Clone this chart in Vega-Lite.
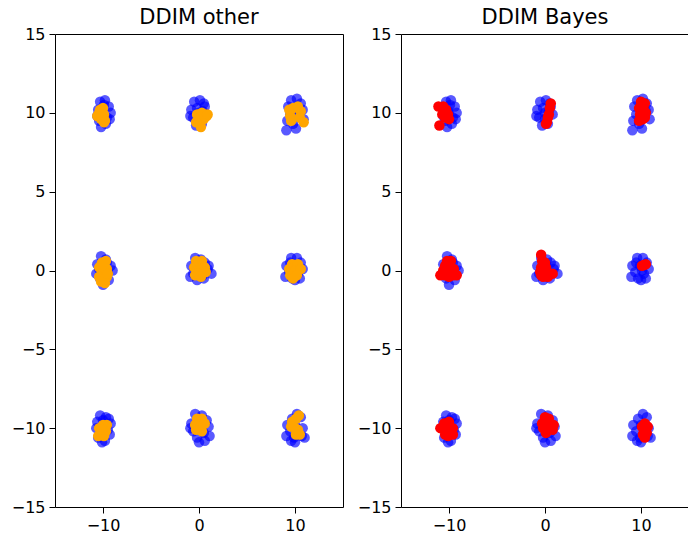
{
  "$schema": "https://vega.github.io/schema/vega-lite/v6.json",
  "background": "white",
  "padding": {"left": 10, "top": 6, "right": 0, "bottom": 0},
  "spacing": 58,
  "bounds": "flush",
  "datasets": {
    "pts": [
      {"g":"blue","x":-10.3,"y":10.7},{"g":"blue","x":-9.8,"y":10.8},{"g":"blue","x":-10.5,"y":10.2},{"g":"blue","x":-9.4,"y":10.4},{"g":"blue","x":-9.2,"y":10.0},{"g":"blue","x":-10.1,"y":10.1},{"g":"blue","x":-9.6,"y":9.7},{"g":"blue","x":-10.4,"y":9.5},{"g":"blue","x":-10.2,"y":9.1},{"g":"blue","x":-9.7,"y":9.3},{"g":"blue","x":-9.3,"y":9.6},{"g":"blue","x":-10.0,"y":9.9},{"g":"blue","x":-9.9,"y":10.5},{"g":"blue","x":-10.6,"y":9.8},
      {"g":"blue","x":-0.5,"y":10.7},{"g":"blue","x":0.1,"y":10.8},{"g":"blue","x":0.5,"y":10.6},{"g":"blue","x":-0.8,"y":10.2},{"g":"blue","x":-0.2,"y":10.3},{"g":"blue","x":0.4,"y":10.1},{"g":"blue","x":0.8,"y":9.9},{"g":"blue","x":-0.6,"y":9.7},{"g":"blue","x":0.0,"y":9.6},{"g":"blue","x":-0.3,"y":9.2},{"g":"blue","x":0.3,"y":9.3},{"g":"blue","x":-0.9,"y":9.8},{"g":"blue","x":0.6,"y":10.4},{"g":"blue","x":0.0,"y":10.0},
      {"g":"blue","x":9.6,"y":10.8},{"g":"blue","x":10.2,"y":10.9},{"g":"blue","x":10.6,"y":10.6},{"g":"blue","x":9.3,"y":10.4},{"g":"blue","x":10.0,"y":10.3},{"g":"blue","x":10.8,"y":10.2},{"g":"blue","x":9.5,"y":9.9},{"g":"blue","x":10.4,"y":9.8},{"g":"blue","x":9.2,"y":9.5},{"g":"blue","x":10.9,"y":9.6},{"g":"blue","x":9.8,"y":9.3},{"g":"blue","x":9.1,"y":8.9},{"g":"blue","x":10.1,"y":9.0},{"g":"blue","x":10.5,"y":10.1},
      {"g":"blue","x":-10.2,"y":0.9},{"g":"blue","x":-9.7,"y":0.7},{"g":"blue","x":-10.6,"y":0.4},{"g":"blue","x":-9.2,"y":0.3},{"g":"blue","x":-10.0,"y":0.2},{"g":"blue","x":-9.5,"y":-0.1},{"g":"blue","x":-10.7,"y":-0.2},{"g":"blue","x":-9.0,"y":0.0},{"g":"blue","x":-10.3,"y":-0.5},{"g":"blue","x":-9.4,"y":-0.6},{"g":"blue","x":-10.0,"y":-0.9},{"g":"blue","x":-9.8,"y":-0.3},{"g":"blue","x":-10.4,"y":0.1},{"g":"blue","x":-9.6,"y":0.5},
      {"g":"blue","x":-0.4,"y":0.8},{"g":"blue","x":0.2,"y":0.7},{"g":"blue","x":0.6,"y":0.5},{"g":"blue","x":-0.8,"y":0.3},{"g":"blue","x":0.0,"y":0.2},{"g":"blue","x":0.9,"y":0.1},{"g":"blue","x":-0.6,"y":-0.2},{"g":"blue","x":0.4,"y":-0.3},{"g":"blue","x":1.3,"y":-0.2},{"g":"blue","x":-0.2,"y":-0.6},{"g":"blue","x":0.5,"y":-0.5},{"g":"blue","x":-0.9,"y":-0.4},{"g":"blue","x":0.1,"y":0.4},{"g":"blue","x":1.0,"y":0.3},
      {"g":"blue","x":9.6,"y":0.8},{"g":"blue","x":10.2,"y":0.8},{"g":"blue","x":10.6,"y":0.5},{"g":"blue","x":9.1,"y":0.3},{"g":"blue","x":9.9,"y":0.3},{"g":"blue","x":10.8,"y":0.1},{"g":"blue","x":9.4,"y":-0.1},{"g":"blue","x":10.3,"y":-0.2},{"g":"blue","x":9.0,"y":-0.4},{"g":"blue","x":9.7,"y":-0.5},{"g":"blue","x":10.5,"y":-0.5},{"g":"blue","x":10.0,"y":-0.6},{"g":"blue","x":9.5,"y":0.5},{"g":"blue","x":10.1,"y":0.0},
      {"g":"blue","x":-10.3,"y":-9.2},{"g":"blue","x":-9.7,"y":-9.3},{"g":"blue","x":-10.6,"y":-9.6},{"g":"blue","x":-9.2,"y":-9.7},{"g":"blue","x":-10.0,"y":-9.5},{"g":"blue","x":-9.5,"y":-10.1},{"g":"blue","x":-10.7,"y":-10.0},{"g":"blue","x":-10.2,"y":-10.3},{"g":"blue","x":-9.3,"y":-10.4},{"g":"blue","x":-10.5,"y":-10.6},{"g":"blue","x":-9.8,"y":-10.8},{"g":"blue","x":-10.1,"y":-10.9},{"g":"blue","x":-9.9,"y":-10.0},{"g":"blue","x":-9.4,"y":-9.4},
      {"g":"blue","x":-0.4,"y":-9.1},{"g":"blue","x":0.3,"y":-9.2},{"g":"blue","x":0.8,"y":-9.5},{"g":"blue","x":-0.8,"y":-9.7},{"g":"blue","x":0.0,"y":-9.6},{"g":"blue","x":1.0,"y":-9.9},{"g":"blue","x":-0.6,"y":-10.2},{"g":"blue","x":0.5,"y":-10.3},{"g":"blue","x":-0.2,"y":-10.6},{"g":"blue","x":0.6,"y":-10.8},{"g":"blue","x":0.0,"y":-10.9},{"g":"blue","x":-0.9,"y":-10.0},{"g":"blue","x":1.1,"y":-10.5},{"g":"blue","x":0.2,"y":-10.0},
      {"g":"blue","x":10.2,"y":-9.1},{"g":"blue","x":10.6,"y":-9.3},{"g":"blue","x":9.7,"y":-9.4},{"g":"blue","x":9.2,"y":-9.8},{"g":"blue","x":10.0,"y":-9.8},{"g":"blue","x":10.8,"y":-10.0},{"g":"blue","x":9.5,"y":-10.2},{"g":"blue","x":10.3,"y":-10.3},{"g":"blue","x":9.1,"y":-10.5},{"g":"blue","x":9.9,"y":-10.6},{"g":"blue","x":10.7,"y":-10.5},{"g":"blue","x":11.0,"y":-10.6},{"g":"blue","x":10.0,"y":-10.9},{"g":"blue","x":9.6,"y":-10.8},

      {"g":"other","x":-10.6,"y":9.8},{"g":"other","x":-10.3,"y":10.2},{"g":"other","x":-10.0,"y":10.3},{"g":"other","x":-10.2,"y":9.6},{"g":"other","x":-9.8,"y":9.5},{"g":"other","x":-9.9,"y":9.9},{"g":"other","x":-10.4,"y":10.0},{"g":"other","x":-9.9,"y":9.4},
      {"g":"other","x":-0.2,"y":9.9},{"g":"other","x":0.3,"y":10.0},{"g":"other","x":0.8,"y":9.8},{"g":"other","x":0.1,"y":9.5},{"g":"other","x":0.5,"y":9.6},{"g":"other","x":0.2,"y":9.1},{"g":"other","x":-0.3,"y":9.4},{"g":"other","x":0.9,"y":9.9},
      {"g":"other","x":9.4,"y":10.2},{"g":"other","x":9.8,"y":10.3},{"g":"other","x":10.3,"y":10.4},{"g":"other","x":10.6,"y":10.1},{"g":"other","x":9.5,"y":9.8},{"g":"other","x":9.6,"y":9.5},{"g":"other","x":10.5,"y":9.7},{"g":"other","x":10.9,"y":9.4},
      {"g":"other","x":-10.1,"y":0.5},{"g":"other","x":-9.7,"y":0.6},{"g":"other","x":-10.4,"y":0.2},{"g":"other","x":-9.6,"y":0.1},{"g":"other","x":-10.0,"y":-0.1},{"g":"other","x":-10.4,"y":-0.4},{"g":"other","x":-9.6,"y":-0.4},{"g":"other","x":-9.8,"y":-0.8},{"g":"other","x":-10.2,"y":-0.7},{"g":"other","x":-9.5,"y":-0.2},
      {"g":"other","x":-0.3,"y":0.6},{"g":"other","x":0.3,"y":0.6},{"g":"other","x":-0.5,"y":0.2},{"g":"other","x":0.1,"y":0.1},{"g":"other","x":0.6,"y":0.2},{"g":"other","x":-0.4,"y":-0.3},{"g":"other","x":0.2,"y":-0.4},{"g":"other","x":0.7,"y":-0.1},{"g":"other","x":-0.1,"y":-0.2},
      {"g":"other","x":9.7,"y":0.4},{"g":"other","x":10.3,"y":0.4},{"g":"other","x":9.4,"y":0.1},{"g":"other","x":10.0,"y":0.0},{"g":"other","x":10.6,"y":0.1},{"g":"other","x":9.5,"y":-0.3},{"g":"other","x":10.2,"y":-0.3},{"g":"other","x":9.8,"y":-0.5},
      {"g":"other","x":-10.0,"y":-9.8},{"g":"other","x":-9.6,"y":-9.8},{"g":"other","x":-10.4,"y":-10.0},{"g":"other","x":-9.7,"y":-10.2},{"g":"other","x":-10.2,"y":-10.3},{"g":"other","x":-10.5,"y":-10.5},{"g":"other","x":-9.9,"y":-10.5},{"g":"other","x":-10.1,"y":-10.1},
      {"g":"other","x":-0.2,"y":-9.4},{"g":"other","x":0.3,"y":-9.4},{"g":"other","x":-0.4,"y":-9.8},{"g":"other","x":0.2,"y":-9.8},{"g":"other","x":0.6,"y":-9.7},{"g":"other","x":-0.3,"y":-10.1},{"g":"other","x":0.3,"y":-10.2},{"g":"other","x":0.0,"y":-10.0},
      {"g":"other","x":10.4,"y":-9.2},{"g":"other","x":10.1,"y":-9.4},{"g":"other","x":9.7,"y":-9.6},{"g":"other","x":9.6,"y":-9.9},{"g":"other","x":10.0,"y":-10.0},{"g":"other","x":10.3,"y":-10.1},{"g":"other","x":10.5,"y":-10.4},{"g":"other","x":10.1,"y":-10.4},

      {"g":"bayes","x":-11.1,"y":10.4},{"g":"bayes","x":-10.6,"y":10.4},{"g":"bayes","x":-10.3,"y":10.2},{"g":"bayes","x":-10.1,"y":9.9},{"g":"bayes","x":-10.4,"y":9.7},{"g":"bayes","x":-10.0,"y":9.6},{"g":"bayes","x":-10.7,"y":9.9},{"g":"bayes","x":-11.0,"y":9.2},
      {"g":"bayes","x":0.6,"y":10.6},{"g":"bayes","x":0.5,"y":10.3},{"g":"bayes","x":0.4,"y":9.9},{"g":"bayes","x":0.3,"y":9.7},{"g":"bayes","x":0.2,"y":9.4},{"g":"bayes","x":0.1,"y":9.3},
      {"g":"bayes","x":10.0,"y":10.7},{"g":"bayes","x":10.4,"y":10.6},{"g":"bayes","x":9.8,"y":10.3},{"g":"bayes","x":10.3,"y":10.2},{"g":"bayes","x":10.5,"y":10.0},{"g":"bayes","x":9.9,"y":9.9},{"g":"bayes","x":10.2,"y":9.6},{"g":"bayes","x":9.8,"y":9.5},{"g":"bayes","x":10.4,"y":9.7},
      {"g":"bayes","x":-10.2,"y":0.6},{"g":"bayes","x":-9.8,"y":0.6},{"g":"bayes","x":-10.4,"y":0.3},{"g":"bayes","x":-9.9,"y":0.2},{"g":"bayes","x":-9.5,"y":0.1},{"g":"bayes","x":-10.6,"y":0.0},{"g":"bayes","x":-10.1,"y":-0.1},{"g":"bayes","x":-9.6,"y":-0.3},{"g":"bayes","x":-10.9,"y":-0.3},{"g":"bayes","x":-10.4,"y":-0.3},{"g":"bayes","x":-9.2,"y":-0.3},{"g":"bayes","x":-10.0,"y":-0.4},{"g":"bayes","x":-9.8,"y":0.0},{"g":"bayes","x":-10.3,"y":0.0},
      {"g":"bayes","x":-0.4,"y":1.0},{"g":"bayes","x":-0.3,"y":0.6},{"g":"bayes","x":0.0,"y":0.5},{"g":"bayes","x":-0.4,"y":0.2},{"g":"bayes","x":0.1,"y":0.2},{"g":"bayes","x":-0.5,"y":-0.1},{"g":"bayes","x":0.0,"y":-0.1},{"g":"bayes","x":0.5,"y":-0.2},{"g":"bayes","x":-0.2,"y":-0.4},{"g":"bayes","x":0.3,"y":-0.4},{"g":"bayes","x":0.8,"y":-0.2},{"g":"bayes","x":-0.4,"y":-0.3},
      {"g":"bayes","x":10.1,"y":0.3},{"g":"bayes","x":10.5,"y":0.4},{"g":"bayes","x":10.3,"y":0.35},
      {"g":"bayes","x":-10.9,"y":-10.0},{"g":"bayes","x":-10.5,"y":-9.7},{"g":"bayes","x":-10.0,"y":-9.6},{"g":"bayes","x":-10.3,"y":-10.0},{"g":"bayes","x":-9.6,"y":-10.0},{"g":"bayes","x":-9.9,"y":-10.2},{"g":"bayes","x":-10.4,"y":-10.4},{"g":"bayes","x":-9.6,"y":-10.4},{"g":"bayes","x":-10.1,"y":-10.5},
      {"g":"bayes","x":0.0,"y":-9.3},{"g":"bayes","x":0.4,"y":-9.4},{"g":"bayes","x":-0.3,"y":-9.7},{"g":"bayes","x":0.3,"y":-9.7},{"g":"bayes","x":0.9,"y":-9.8},{"g":"bayes","x":-0.2,"y":-10.0},{"g":"bayes","x":0.5,"y":-10.0},{"g":"bayes","x":0.1,"y":-10.3},{"g":"bayes","x":0.8,"y":-10.1},
      {"g":"bayes","x":10.4,"y":-9.7},{"g":"bayes","x":10.1,"y":-9.9},{"g":"bayes","x":10.7,"y":-9.9},{"g":"bayes","x":10.3,"y":-10.1},{"g":"bayes","x":10.6,"y":-10.3},{"g":"bayes","x":10.2,"y":-10.4},{"g":"bayes","x":10.4,"y":-10.6}
    ]
  },
  "hconcat": [
    {
      "title": "DDIM other",
      "width": 288,
      "height": 473,
      "data": {"name": "pts"},
      "layer": [
        {
          "transform": [{"filter": "datum.g === 'blue'"}],
          "mark": {"type": "circle", "size": 110, "opacity": 0.65, "color": "#0000ff"},
          "encoding": {
            "x": {"field": "x", "type": "quantitative", "scale": {"domain": [-15, 15], "nice": false, "zero": false}, "axis": {"values": [-10, 0, 10], "title": null}},
            "y": {"field": "y", "type": "quantitative", "scale": {"domain": [-15, 15], "nice": false, "zero": false}, "axis": {"values": [-15, -10, -5, 0, 5, 10, 15], "title": null}}
          }
        },
        {
          "transform": [{"filter": "datum.g === 'other'"}],
          "mark": {"type": "circle", "size": 110, "opacity": 1, "color": "#ffa500"},
          "encoding": {
            "x": {"field": "x", "type": "quantitative"},
            "y": {"field": "y", "type": "quantitative"}
          }
        }
      ]
    },
    {
      "title": "DDIM Bayes",
      "width": 288,
      "height": 473,
      "data": {"name": "pts"},
      "layer": [
        {
          "transform": [{"filter": "datum.g === 'blue'"}],
          "mark": {"type": "circle", "size": 110, "opacity": 0.65, "color": "#0000ff"},
          "encoding": {
            "x": {"field": "x", "type": "quantitative", "scale": {"domain": [-15, 15], "nice": false, "zero": false}, "axis": {"values": [-10, 0, 10], "title": null}},
            "y": {"field": "y", "type": "quantitative", "scale": {"domain": [-15, 15], "nice": false, "zero": false}, "axis": {"values": [-15, -10, -5, 0, 5, 10, 15], "title": null}}
          }
        },
        {
          "transform": [{"filter": "datum.g === 'bayes'"}],
          "mark": {"type": "circle", "size": 110, "opacity": 1, "color": "#ff0000"},
          "encoding": {
            "x": {"field": "x", "type": "quantitative"},
            "y": {"field": "y", "type": "quantitative"}
          }
        }
      ]
    }
  ],
  "config": {
    "font": "DejaVu Sans",
    "view": {"stroke": "black", "strokeWidth": 1},
    "axis": {
      "grid": false,
      "domain": false,
      "ticks": true,
      "tickColor": "black",
      "tickSize": 6,
      "tickWidth": 1,
      "labelColor": "black",
      "labelFont": "DejaVu Sans",
      "labelFontSize": 16,
      "labelPadding": 4,
      "labelFlush": false,
      "labelOverlap": false
    },
    "title": {
      "font": "DejaVu Sans",
      "fontSize": 21,
      "fontWeight": "normal",
      "color": "black",
      "anchor": "middle",
      "offset": -2
    }
  }
}
